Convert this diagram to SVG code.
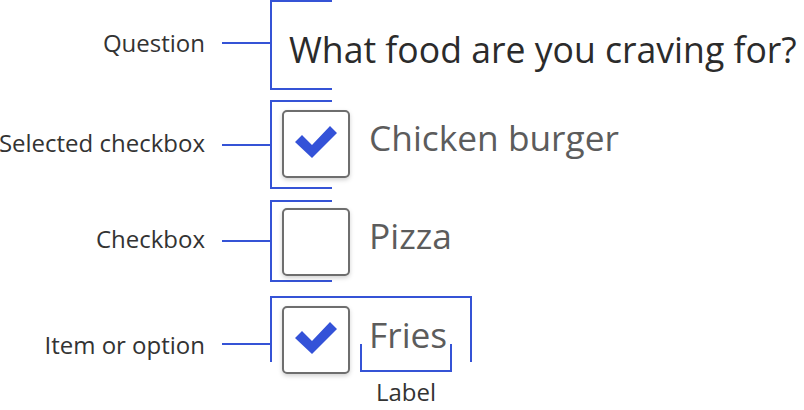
<svg xmlns="http://www.w3.org/2000/svg" width="804" height="410" viewBox="0 0 804 410">
<defs>
<style>
.ann{font-family:"Open Sans","Noto Sans",sans-serif;font-size:24px;fill:#333;text-anchor:end}
.opt{font-family:"Open Sans","Noto Sans",sans-serif;font-size:35.3px;fill:#5c5c5c}
.q{font-family:"Open Sans","Noto Sans",sans-serif;font-size:35.6px;fill:#2b2b2b}
.br{fill:none;stroke:#3553d6;stroke-width:2}
.box{fill:#fff;stroke:#6e6e6e;stroke-width:2;filter:url(#sh)}
.chk{fill:#3452d8}
</style>
<filter id="sh" x="-20%" y="-20%" width="140%" height="150%">
<feDropShadow dx="0" dy="2" stdDeviation="2" flood-color="#000" flood-opacity="0.18"/>
</filter>
</defs>
<rect width="804" height="410" fill="#fff"/>
<g id="connectors">
<path class="br" d="M332 1H271V89H332M222 43H271"/>
<path class="br" d="M332 101H271V188H332M222 145H271"/>
<path class="br" d="M332 201H271V281H332M222 241H271"/>
<path class="br" d="M271 362V297H471V362M222 344H271"/>
<path class="br" d="M361 344V371H451V344"/>
</g>
<g id="question">
<text class="ann" x="205" y="52">Question</text>
<text class="q" x="289" y="63">What food are you craving for?</text>
</g>
<g id="selected-checkbox">
<text class="ann" x="205" y="152">Selected checkbox</text>
<rect class="box" x="283" y="111" width="66" height="66" rx="4"/>
<polygon class="chk" points="295,142 302,135 312,145 330,126 337,133 312,158"/>
<text class="opt" x="369" y="151">Chicken burger</text>
</g>
<g id="checkbox">
<text class="ann" x="205" y="248">Checkbox</text>
<rect class="box" x="283" y="209" width="66" height="66" rx="4"/>
<text class="opt" x="369" y="249">Pizza</text>
</g>
<g id="item">
<text class="ann" x="205" y="354">Item or option</text>
<rect class="box" x="283" y="307" width="66" height="66" rx="4"/>
<polygon class="chk" points="295,338 302,331 312,341 330,322 337,329 312,354"/>
<text class="opt" x="369" y="348">Fries</text>
</g>
<g id="label">
<text class="ann" x="406" y="401" style="text-anchor:middle">Label</text>
</g>
</svg>
